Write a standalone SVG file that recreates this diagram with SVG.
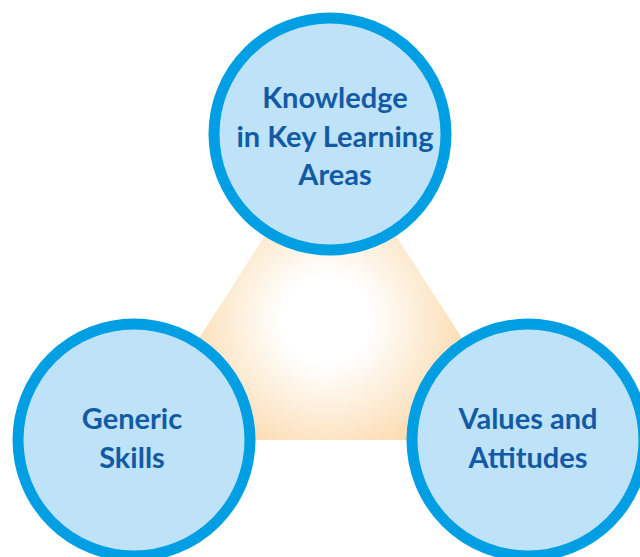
<svg xmlns="http://www.w3.org/2000/svg" width="640" height="557" viewBox="0 0 640 557">
<defs>
<radialGradient id="glow" gradientUnits="userSpaceOnUse" cx="326" cy="320" r="200">
<stop offset="0" stop-color="#FFFFFF"/>
<stop offset="0.22" stop-color="#FFFFFF"/>
<stop offset="0.7" stop-color="#FBDDB3"/>
<stop offset="1" stop-color="#F7C47C"/>
</radialGradient>
<style>
.node circle{fill:#BEE3F8;stroke:#009FE3;stroke-width:11}
.node text{font-family:Lato,"Open Sans","Liberation Sans",sans-serif;font-weight:bold;font-size:29px;fill:#125BA4;text-anchor:middle}
</style>
</defs>
<rect width="640" height="557" fill="#FFFFFF"/>
<g id="connectors">
<polygon points="330,134 134,440 528,440" fill="url(#glow)"/>
</g>
<g id="knowledge" class="node">
<circle cx="330" cy="134" r="116"/>
<text x="335" y="108">Knowledge</text>
<text x="335" y="147">in Key Learning</text>
<text x="335" y="185">Areas</text>
</g>
<g id="generic" class="node">
<circle cx="134" cy="440" r="116"/>
<text x="132" y="429">Generic</text>
<text x="132" y="468">Skills</text>
</g>
<g id="values" class="node">
<circle cx="528" cy="440" r="116"/>
<text x="528" y="429">Values and</text>
<text x="528" y="468">Attitudes</text>
</g>
</svg>
